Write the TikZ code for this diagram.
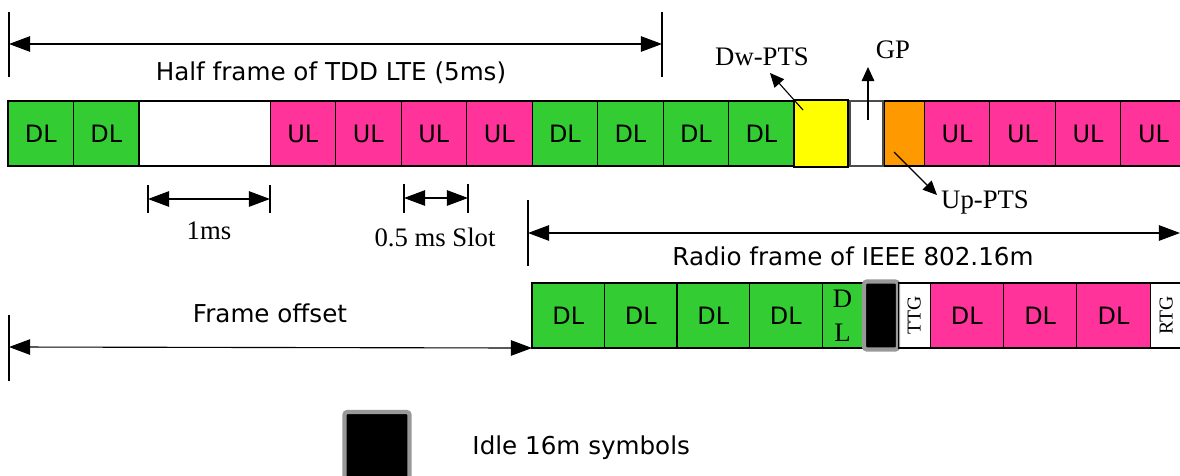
\documentclass[tikz,border=0pt]{standalone}
\usepackage{fontspec}
\setmainfont{Liberation Serif}
\newfontfamily\sanslabel{DejaVu Sans}
\usetikzlibrary{
    arrows.meta,
    positioning
}

\definecolor{dlgreen}{HTML}{33CC33}
\definecolor{ulpink}{HTML}{FF3399}
\definecolor{dwyellow}{HTML}{FFFF00}
\definecolor{uporange}{HTML}{FF9900}
\definecolor{idlegray}{HTML}{999999}

\begin{document}
\begin{tikzpicture}[
        x=0.025cm, y=-0.025cm,
        node distance=0pt,
        slot/.style={
            rectangle,
            draw,
            line width=0.8pt,
            inner sep=0pt,
            outer sep=0pt,
            minimum height=1.625cm,
            font=\sanslabel\fontsize{17}{20}\selectfont
        },
        lte/.style={slot, minimum width=1.6375cm},
        wimax/.style={slot, minimum width=1.8125cm},
        dl/.style={fill=dlgreen},
        ul/.style={fill=ulpink},
        idle/.style={
            rectangle,
            fill=black,
            draw=idlegray,
            line width=3pt,
            outer sep=0pt,
            rounded corners=2pt
        },
        caption/.style={font=\sanslabel\fontsize{17.5}{20}\selectfont},
        serif/.style={font=\fontsize{19}{22}\selectfont},
        dimline/.style={
            {Triangle[length=15pt,width=11pt]}-{Triangle[length=15pt,width=11pt]},
            line width=0.8pt
        },
        tick/.style={line width=0.8pt},
        pointer/.style={
            -{Triangle[length=10pt,width=9pt]},
            line width=0.8pt
        }
    ]

    \useasboundingbox (0,0) rectangle (1180,475);

    % TDD LTE half frame
    \node[lte, dl, anchor=north west] (lte1) at (8,101) {DL};
    \node[lte, dl, right=of lte1] (lte2) {DL};
    \node[slot, minimum width=3.275cm, right=of lte2] (lte3) {};
    \node[lte, ul, right=of lte3] (lte4) {UL};
    \node[lte, ul, right=of lte4] (lte5) {UL};
    \node[lte, ul, right=of lte5] (lte6) {UL};
    \node[lte, ul, right=of lte6] (lte7) {UL};
    \node[lte, dl, right=of lte7] (lte8) {DL};
    \node[lte, dl, right=of lte8] (lte9) {DL};
    \node[lte, dl, right=of lte9] (lte10) {DL};
    \node[lte, dl, right=of lte10] (lte11) {DL};
    \node[slot, fill=dwyellow, line width=1.2pt, minimum width=1.35cm,
        minimum height=1.675cm, right=of lte11] (dwpts) {};
    \node[slot, draw=black!70, line width=1.2pt, minimum width=0.825cm,
        right=0.05cm of dwpts] (gp) {};
    \node[slot, fill=uporange, minimum width=1.0cm,
        right=0.025cm of gp] (uppts) {};
    \node[lte, ul, right=of uppts] (lte12) {UL};
    \node[lte, ul, right=of lte12] (lte13) {UL};
    \node[lte, ul, right=of lte13] (lte14) {UL};
    \node[lte, ul, right=of lte14] (lte15) {UL};

    % IEEE 802.16m radio frame
    \node[wimax, dl, anchor=north west] (m1) at (532,283) {DL};
    \node[wimax, dl, right=of m1] (m2) {DL};
    \node[wimax, dl, right=of m2] (m3) {DL};
    \node[wimax, dl, right=of m3] (m4) {DL};
    \node[slot, dl, serif, minimum width=1.025cm, align=center,
        right=of m4] (m5) {D\\[2pt]L};
    \node[idle, minimum width=0.85cm, minimum height=1.7cm,
        right=0.025cm of m5] (gap16m) {};
    \node[slot, minimum width=0.8cm, font=\fontsize{14}{16}\selectfont,
        right=0pt of gap16m] (ttg) {\rotatebox{90}{TTG}};
    \node[wimax, ul, minimum width=1.8333cm, right=of ttg] (p1) {DL};
    \node[wimax, ul, minimum width=1.8333cm, right=of p1] (p2) {DL};
    \node[wimax, ul, minimum width=1.8333cm, right=of p2] (p3) {DL};
    \node[slot, minimum width=0.8cm, font=\fontsize{14}{16}\selectfont,
        right=of p3] (rtg) {\rotatebox{90}{RTG}};

    % dimension lines
    \coordinate (halfL) at (9,44);
    \coordinate (halfR) at (662,44);
    \draw[tick] (9,12) -- (9,77);
    \draw[tick] (662,12) -- (662,77);
    \draw[dimline] (halfL) -- (halfR);
    \node[caption] (halflabel) at (331,73) {Half frame of TDD LTE (5ms)};

    \coordinate (oneL) at (148,199);
    \coordinate (oneR) at (270,199);
    \draw[tick] (148,185) -- (148,213);
    \draw[tick] (270,185) -- (270,213);
    \draw[dimline] (oneL) -- (oneR);
    \node[serif] (onelabel) at (209,231) {1ms};

    \coordinate (slotL) at (404,198);
    \coordinate (slotR) at (468,198);
    \draw[tick] (404,184) -- (404,213);
    \draw[tick] (468,184) -- (468,213);
    \draw[dimline] (slotL) -- (slotR);
    \node[serif] (slotlabel) at (435,237) {0.5 ms Slot};

    \coordinate (radioL) at (528,233);
    \coordinate (radioR) at (1180,233);
    \draw[tick] (528,200) -- (528,266);
    \draw[dimline] (radioL) -- (radioR);
    \node[caption] (radiolabel) at (853,256) {Radio frame of IEEE 802.16m};

    \coordinate (offsetL) at (9,347);
    \draw[tick] (9,315) -- (9,381);
    \draw[dimline] (offsetL) -- (m1.south west);
    \node[caption] (offsetlabel) at (270,313) {Frame offset};

    % special subframe labels
    \node[serif] (dwlabel) at (762,57) {Dw-PTS};
    \node[serif] (gplabel) at (893,50) {GP};
    \node[serif] (uplabel) at (985,202) {Up-PTS};
    \coordinate (dwtail) at (803,110);
    \coordinate (gptail) at (868,120);
    \coordinate (uptail) at (894,152);
    \draw[pointer] (dwtail) -- (770,73);
    \draw[pointer] (gptail) -- (868,67);
    \draw[pointer] (uptail) -- (937,195);

    % legend
    \node[idle, minimum width=1.625cm, minimum height=1.8cm] (legendbox) at (377,448) {};
    \node[caption, right=1.45cm of legendbox] (legendlabel) {Idle 16m symbols};

\end{tikzpicture}
\end{document}
